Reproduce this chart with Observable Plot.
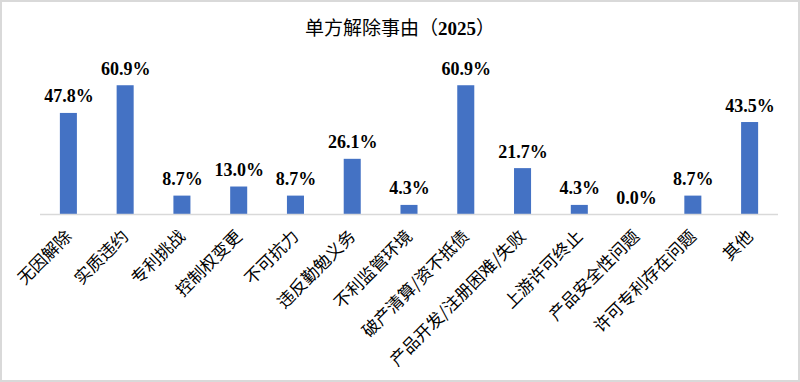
<!DOCTYPE html>
<html><head><meta charset="utf-8">
<script src="https://cdn.jsdelivr.net/npm/d3@7"></script>
<script src="https://cdn.jsdelivr.net/npm/@observablehq/plot@0.6"></script>
<style>
html,body{margin:0;padding:0;background:#fff;}
#box{width:800px;height:382px;box-sizing:border-box;border:2px solid #d9d9d9;background:#fff;overflow:hidden;}
#title{height:50px;box-sizing:border-box;padding-top:16px;text-align:center;font-family:"Liberation Serif","Noto Sans CJK SC",serif;font-size:19px;line-height:21px;color:#000;}
#title b{font-weight:bold;}
#chart svg g[aria-label="text"] text{font-family:"Liberation Serif",serif !important;font-size:18px !important;font-weight:bold !important;}
#chart svg g[aria-label="x-axis tick label"] text{font-family:"Noto Sans CJK SC",sans-serif !important;font-size:17px !important;}
</style></head>
<body><div id="box"><div id="title">单方解除事由（<b>2025</b>）</div><div id="chart"></div></div>
<script>
const categories = ["无因解除","实质违约","专利挑战","控制权变更","不可抗力","违反勤勉义务","不利监管环境","破产清算/资不抵债","产品开发/注册困难/失败","上游许可终止","产品安全性问题","许可专利存在问题","其他"];
const values = [47.8, 60.9, 8.7, 13.0, 8.7, 26.1, 4.3, 60.9, 21.7, 4.3, 0.0, 8.7, 43.5];
const data = categories.map((c, i) => ({category: c, value: values[i]}));

const chart = Plot.plot({
  width: 796,
  height: 328,
  marginTop: 14,
  marginBottom: 166,
  marginLeft: 38,
  marginRight: 20,
  style: "font-family: 'Liberation Serif', 'Noto Sans CJK SC', serif; font-size: 16px; background: #fff;",
  x: {domain: categories, paddingInner: 0.7, paddingOuter: 0.35, round: false, label: null},
  y: {domain: [0, 70], axis: null},
  marks: [
    Plot.barY(data, {x: "category", y: "value", fill: "#4472C4"}),
    Plot.ruleY([0], {stroke: "#d9d9d9", strokeWidth: 1.5}),
    Plot.text(data, {x: "category", y: "value", text: d => d.value.toFixed(1) + "%", lineAnchor: "bottom", dy: -11, fontSize: 18, fontWeight: "bold", fill: "#000"}),
    Plot.axisX({tickRotate: -45, tickSize: 0, tickPadding: 19, fontSize: 17, fill: "#000", label: null})
  ]
});
document.getElementById("chart").appendChild(chart);
</script>
</body></html>
